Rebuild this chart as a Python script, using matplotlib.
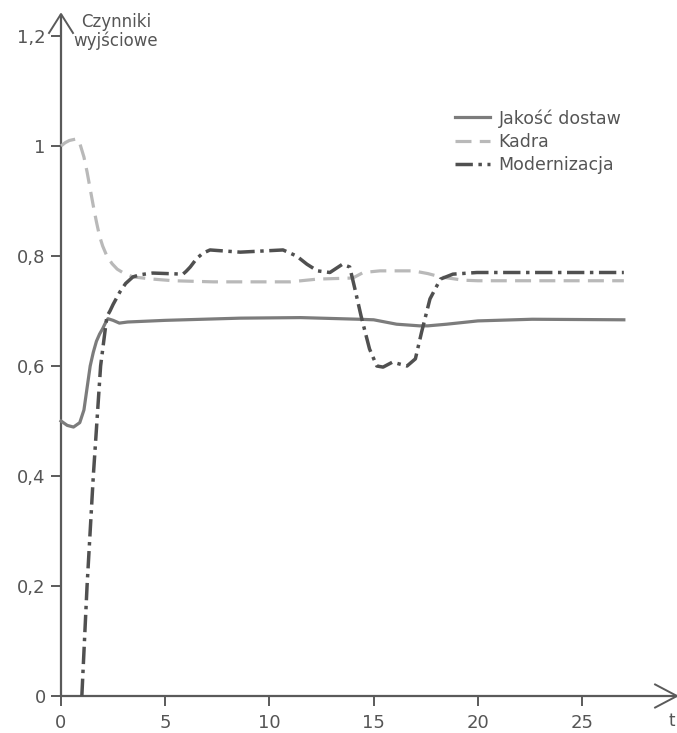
import matplotlib
matplotlib.use("Agg")
import matplotlib.pyplot as plt

# ---- data ----
t_jakosc = [0, 0.3, 0.6, 0.9, 1.1, 1.25, 1.4, 1.55, 1.7, 1.85, 2.0, 2.1, 2.25, 2.5, 2.8, 3.2, 5, 8.6, 11.5, 14.3, 15.0, 16.1, 17.2, 17.6, 18.5, 20.0, 22.6, 27]
v_jakosc = [0.5, 0.492, 0.489, 0.497, 0.52, 0.56, 0.60, 0.625, 0.645, 0.658, 0.668, 0.676, 0.686, 0.683, 0.678, 0.680, 0.683, 0.687, 0.688, 0.685, 0.684, 0.676, 0.673, 0.673, 0.676, 0.682, 0.685, 0.684]

t_kadra = [0, 0.2, 0.4, 0.75, 0.9, 1.1, 1.25, 1.4, 1.55, 1.7, 1.85, 2.0, 2.2, 2.45, 2.7, 3.0, 3.45, 4.4, 5.4, 7.3, 11.0, 12.3, 14.0, 14.5, 15.3, 16.9, 17.6, 18.2, 19.3, 20.0, 27]
v_kadra = [1.0, 1.006, 1.010, 1.013, 1.005, 0.980, 0.953, 0.922, 0.891, 0.862, 0.836, 0.818, 0.800, 0.786, 0.776, 0.769, 0.762, 0.758, 0.755, 0.753, 0.753, 0.758, 0.760, 0.770, 0.773, 0.773, 0.768, 0.762, 0.756, 0.755, 0.755]

t_modern = [1.0, 1.25, 1.55, 1.9, 2.2, 2.35, 2.5, 2.83, 3.1, 3.45, 3.8, 4.4, 5.85, 6.0, 6.2, 6.5, 6.8, 7.15, 7.5, 8.6, 10.65, 11.3, 11.8, 12.3, 12.9, 13.5, 13.85, 14.1, 14.4, 14.8, 15.15, 15.45, 15.9, 16.6, 17.0, 17.3, 17.7, 18.2, 18.8, 19.95, 27]
v_modern = [0.0, 0.2, 0.4, 0.6, 0.69, 0.700, 0.712, 0.735, 0.750, 0.762, 0.766, 0.769, 0.767, 0.772, 0.780, 0.795, 0.805, 0.811, 0.810, 0.807, 0.811, 0.800, 0.785, 0.773, 0.770, 0.785, 0.780, 0.740, 0.690, 0.631, 0.600, 0.598, 0.607, 0.600, 0.613, 0.662, 0.722, 0.758, 0.767, 0.770, 0.770]

labels = ["Jakość dostaw", "Kadra", "Modernizacja"]
x_ticks = [0, 5, 10, 15, 20, 25]
y_ticks = [0, 0.2, 0.4, 0.6, 0.8, 1.0, 1.2]
y_tick_labels = ["0", "0,2", "0,4", "0,6", "0,8", "1", "1,2"]
y_title = "Czynniki\nwyjściowe"
x_title = "t"

plt.rcParams['font.family'] = ['DejaVu Sans']
W, H = 677, 733
fig = plt.figure(figsize=(W / 100, H / 100), dpi=100)
ax = fig.add_axes([61 / W, (H - 696) / H, 616 / W, 682 / H])
ax.set_xlim(0, 29.55)
ax.set_ylim(0, 1.24)
for s in ax.spines.values():
    s.set_visible(False)

axis_col = "#5a5a5a"
txt_col = "#555555"

# axes lines with open arrow heads
ax.plot([0, 0], [0, 1.24], color=axis_col, lw=1.6, clip_on=False, solid_capstyle='butt')
ax.plot([0, 29.55], [0, 0], color=axis_col, lw=1.6, clip_on=False, solid_capstyle='butt')
ax.plot([-0.575, 0, 0.575], [1.24 - 0.0345, 1.24, 1.24 - 0.0345], color=axis_col, lw=1.4, clip_on=False)
ax.plot([29.55 - 1.05, 29.55, 29.55 - 1.05], [0.021, 0, -0.021], color=axis_col, lw=1.4, clip_on=False)

ax.set_xticks(x_ticks)
ax.set_yticks(y_ticks)
ax.set_yticklabels(y_tick_labels)
ax.tick_params(axis='both', direction='out', length=7, width=1.4, color=axis_col,
               labelcolor=txt_col, labelsize=13)
ax.tick_params(axis='x', pad=6)
ax.tick_params(axis='y', pad=4)

l1, = ax.plot(t_jakosc, v_jakosc, color="#7c7c7c", lw=2.3, label=labels[0], clip_on=False)
l2, = ax.plot(t_kadra, v_kadra, color="#b9b9b9", lw=2.3, dashes=(5, 2.6), label=labels[1], clip_on=False)
l3, = ax.plot(t_modern, v_modern, color="#505050", lw=2.5, dashes=(5, 1.6, 1.0, 1.6), label=labels[2], clip_on=False)

leg = fig.legend(handles=[l1, l2, l3], loc='upper left', bbox_to_anchor=(455 / W, 1 - 109 / H),
                 frameon=False, fontsize=12.5, handlelength=2.0, handletextpad=0.5,
                 labelspacing=0.3, borderpad=0, borderaxespad=0)
for tx in leg.get_texts():
    tx.set_color(txt_col)

fig.text(116 / W, 1 - 13 / H, y_title, ha='center', va='top', fontsize=12, color=txt_col,
         linespacing=1.0)
fig.text(672 / W, 1 - 712 / H, x_title, ha='center', va='top', fontsize=12, color=txt_col)

fig.savefig("out.png", dpi=100)
